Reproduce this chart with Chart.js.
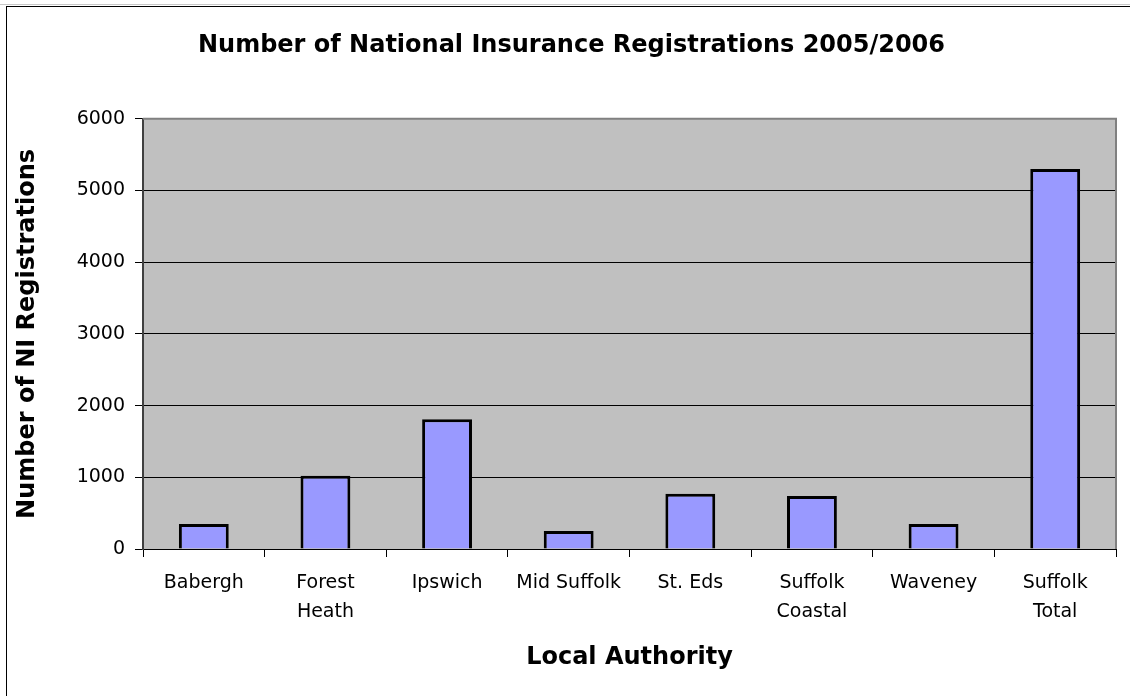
<!DOCTYPE html>
<html>
<head>
<meta charset="utf-8">
<title>Number of National Insurance Registrations 2005/2006</title>
<script src="https://cdn.jsdelivr.net/npm/chart.js@4/dist/chart.umd.min.js"></script>
<style>
  html, body { margin: 0; padding: 0; background: #fff; }
  #wrap { position: relative; width: 1130px; height: 696px; overflow: hidden; }
  #frame {
    position: absolute; left: 6px; top: 6px; width: 1200px; height: 800px;
    border-top: 1px solid #000; border-left: 1px solid #000; pointer-events: none;
  }
  #frameShade { position: absolute; left: 0; top: 4px; width: 1130px; height: 1px; background: #c8c8c8; }
</style>
</head>
<body>
<div id="wrap">
  <canvas id="niChart"></canvas>
  <div id="frameShade"></div>
  <div id="frame"></div>
</div>
<script>
// Данные графика
const authorities = [
  'Babergh', ['Forest', 'Heath'], 'Ipswich', 'Mid Suffolk',
  'St. Eds', ['Suffolk', 'Coastal'], 'Waveney', ['Suffolk', 'Total']
];
const registrations = [350, 1020, 1810, 250, 770, 740, 350, 5300];
const yMin = 0;
const yMax = 6000;
const yStep = 1000;

const FONT = '"DejaVu Sans", Verdana, Tahoma, sans-serif';

// Серый фон области построения и рамка сверху/справа
const plotArea = {
  id: 'plotArea',
  beforeDraw(chart) {
    const { ctx, chartArea: a } = chart;
    ctx.save();
    ctx.fillStyle = '#C0C0C0';
    ctx.fillRect(a.left, a.top, a.right - a.left, a.bottom - a.top);
    ctx.restore();
  },
  afterDraw(chart) {
    const { ctx, chartArea: a } = chart;
    ctx.save();
    ctx.strokeStyle = '#808080';
    ctx.lineWidth = 2;
    ctx.beginPath();
    ctx.moveTo(a.left, a.top);
    ctx.lineTo(a.right, a.top);
    ctx.lineTo(a.right, a.bottom);
    ctx.stroke();
    ctx.restore();
  }
};

const ctx = document.getElementById('niChart').getContext('2d');
new Chart(ctx, {
  type: 'bar',
  data: {
    labels: authorities,
    datasets: [{
      label: 'NI Registrations',
      data: registrations,
      backgroundColor: '#9999FF',
      borderColor: '#000000',
      borderWidth: 3,
      categoryPercentage: 1,
      barPercentage: 0.41
    }]
  },
  options: {
    responsive: true,
    maintainAspectRatio: false,
    animation: false,
    layout: { padding: { left: 27, right: 14, top: 0, bottom: 0 } },
    plugins: {
      legend: { display: false },
      tooltip: { enabled: false },
      title: {
        display: true,
        text: 'Number of National Insurance Registrations 2005/2006',
        color: '#000',
        font: { family: FONT, size: 24, weight: 'bold', lineHeight: 1.2 },
        padding: { top: 31, bottom: 59 }
      }
    },
    scales: {
      x: {
        grid: { display: true, drawOnChartArea: false, drawTicks: true, tickLength: 8, color: '#000', lineWidth: 1 },
        border: { color: '#000', width: 1 },
        ticks: {
          color: '#000',
          padding: 12,
          maxRotation: 0,
          autoSkip: false,
          font: { family: FONT, size: 19, lineHeight: 1.52 }
        },
        title: {
          display: true,
          text: 'Local Authority',
          color: '#000',
          font: { family: FONT, size: 24, weight: 'bold', lineHeight: 1.2 },
          padding: { top: 0, bottom: 24 }
        },
        afterFit(scale) { scale.height = 147; }
      },
      y: {
        min: yMin,
        max: yMax,
        grid: { color: '#000', lineWidth: 1, drawTicks: true, tickLength: 8 },
        border: { color: '#404040', width: 2 },
        ticks: {
          stepSize: yStep,
          color: '#000',
          padding: 10,
          font: { family: FONT, size: 19 },
          callback: (value) => String(value)
        },
        title: {
          display: true,
          text: 'Number of NI Registrations',
          color: '#000',
          font: { family: FONT, size: 24, weight: 'bold', lineHeight: 1.2 },
          padding: { top: -13.4, bottom: 0 }
        },
        afterFit(scale) { scale.width = 116; }
      }
    }
  },
  plugins: [plotArea]
});
</script>
</body>
</html>
